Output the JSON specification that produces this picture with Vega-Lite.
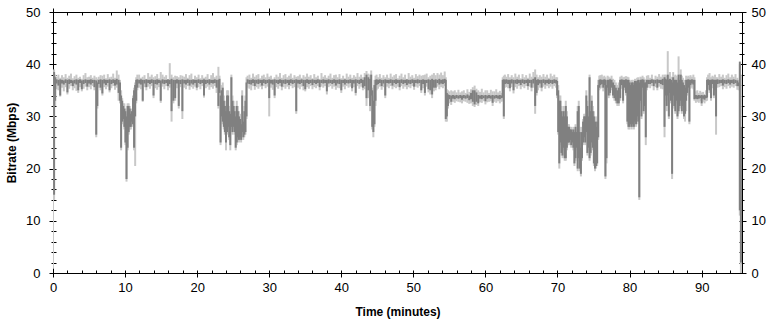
{
"$schema": "https://vega.github.io/schema/vega-lite/v6.json",
"width": 689,
"height": 261,
"autosize": "none",
"padding": {"left": 53, "top": 12, "right": 33, "bottom": 49},
"background": "white",
"config": {
 "view": {"stroke": "#000", "strokeWidth": 1},
 "axis": {"domain": false, "grid": false, "tickColor": "#000", "labelColor": "#000", "labelFont": "Liberation Sans", "labelFontSize": 13, "titleFont": "Liberation Sans", "titleFontSize": 12, "titleFontWeight": "bold", "titleColor": "#000", "labelOverlap": false, "labelFlush": false, "offset": -3, "tickWidth": 1}
},
"data": {"values": [
{"t":0,"d":37,"h":38,"m":0.8,"l":38.5},{"t":0.15,"d":15,"h":38.5,"m":14,"l":39},{"t":0.3,"d":33,"h":37.5,"m":32,"l":38},
{"t":0.5,"d":36.3,"h":37.1,"m":35.2,"l":37.6},{"t":0.75,"d":35.9,"h":37.0,"m":35.0,"l":38.0},{"t":1.0,"d":34.0,"h":37.1,"m":33.8,"l":37.4},{"t":1.25,"d":36.3,"h":37.0,"m":35.5,"l":37.9},{"t":1.5,"d":36.1,"h":36.9,"m":34.8,"l":37.5},{"t":1.75,"d":36.4,"h":37.1,"m":35.6,"l":38.1},{"t":2.0,"d":34.6,"h":37.0,"m":34.2,"l":37.4},{"t":2.25,"d":36.2,"h":37.1,"m":35.3,"l":37.8},{"t":2.5,"d":36.4,"h":37.0,"m":35.8,"l":38.2},{"t":2.75,"d":35.8,"h":36.9,"m":35.0,"l":37.3},{"t":3.0,"d":36.3,"h":37.0,"m":35.4,"l":37.7},{"t":3.25,"d":36.1,"h":37.1,"m":34.9,"l":38.0},{"t":3.5,"d":35.0,"h":37.0,"m":34.5,"l":37.4},{"t":3.75,"d":36.4,"h":37.1,"m":35.6,"l":37.6},{"t":4.0,"d":35.2,"h":36.9,"m":34.8,"l":37.2},{"t":4.25,"d":36.2,"h":37.0,"m":35.3,"l":37.9},{"t":4.5,"d":36.4,"h":37.1,"m":35.7,"l":38.3},{"t":4.75,"d":35.7,"h":37.0,"m":35.0,"l":37.5},{"t":5.0,"d":36.3,"h":37.0,"m":35.6,"l":37.6},{"t":5.25,"d":36.1,"h":37.1,"m":35.2,"l":37.9},{"t":5.5,"d":36.4,"h":37.0,"m":35.8,"l":37.4},{"t":5.75,"d":35.6,"h":37.0,"m":35.0,"l":37.8},{"t":6.0,"d":26.5,"h":36.9,"m":26.0,"l":37.5},{"t":6.15,"d":32.0,"h":36.5,"m":31.5,"l":37.2},{"t":6.35,"d":36.2,"h":37.0,"m":35.5,"l":37.6},{"t":6.6,"d":35.5,"h":37.1,"m":35.0,"l":37.9},{"t":6.85,"d":34.4,"h":37.0,"m":34.0,"l":37.8},{"t":7.1,"d":36.3,"h":37.1,"m":35.6,"l":38.0},{"t":7.35,"d":36.0,"h":37.0,"m":35.2,"l":37.3},{"t":7.6,"d":36.4,"h":37.0,"m":35.7,"l":38.1},{"t":7.85,"d":35.0,"h":37.1,"m":34.6,"l":37.5},{"t":8.1,"d":36.2,"h":37.0,"m":35.4,"l":37.6},{"t":8.35,"d":36.4,"h":37.1,"m":35.8,"l":38.2},{"t":8.6,"d":35.9,"h":37.0,"m":35.1,"l":37.4},{"t":8.85,"d":36.1,"h":37.2,"m":35.5,"l":38.8},
{"t":9.1,"d":34.5,"h":37.0,"m":33.0,"l":38.0},{"t":9.3,"d":33.0,"h":36.5,"m":32.5,"l":37.0},{"t":9.45,"d":24.0,"h":34.0,"m":23.5,"l":35.0},{"t":9.6,"d":29.0,"h":33.0,"m":28.5,"l":33.5},{"t":9.75,"d":29.5,"h":32.0,"m":29.0,"l":32.5},{"t":9.9,"d":28.0,"h":31.5,"m":27.5,"l":32.5},{"t":10.05,"d":25.0,"h":31.0,"m":24.5,"l":31.5},{"t":10.2,"d":18.0,"h":30.0,"m":17.5,"l":30.5},{"t":10.35,"d":24.0,"h":32.0,"m":23.5,"l":32.5},{"t":10.5,"d":27.0,"h":32.0,"m":26.5,"l":32.5},{"t":10.65,"d":28.0,"h":31.5,"m":27.5,"l":32.0},{"t":10.8,"d":28.0,"h":30.5,"m":27.5,"l":31.0},{"t":10.95,"d":29.0,"h":31.0,"m":28.5,"l":31.5},{"t":11.1,"d":28.5,"h":33.5,"m":28.0,"l":34.0},{"t":11.25,"d":24.0,"h":35.0,"m":23.5,"l":35.5},{"t":11.4,"d":30.0,"h":36.0,"m":20.5,"l":36.5},{"t":11.55,"d":33.0,"h":37.0,"m":32.5,"l":37.5},{"t":11.7,"d":35.5,"h":37.1,"m":35.0,"l":38.0},
{"t":11.95,"d":36.3,"h":37.0,"m":35.5,"l":38.0},{"t":12.2,"d":36.1,"h":37.1,"m":35.2,"l":37.4},{"t":12.45,"d":33.0,"h":37.0,"m":32.8,"l":37.6},{"t":12.7,"d":36.3,"h":37.0,"m":35.6,"l":37.9},{"t":12.95,"d":35.6,"h":37.1,"m":35.0,"l":37.2},{"t":13.2,"d":36.4,"h":37.0,"m":35.7,"l":38.3},{"t":13.45,"d":36.2,"h":37.0,"m":35.3,"l":37.6},{"t":13.7,"d":36.4,"h":37.1,"m":35.8,"l":38.0},{"t":13.95,"d":34.0,"h":37.0,"m":33.5,"l":37.5},{"t":14.2,"d":36.2,"h":37.0,"m":35.4,"l":37.7},{"t":14.45,"d":36.1,"h":37.1,"m":35.1,"l":38.1},{"t":14.7,"d":36.4,"h":37.0,"m":35.6,"l":37.3},{"t":14.95,"d":33.0,"h":36.9,"m":32.6,"l":38.5},{"t":15.2,"d":36.3,"h":37.1,"m":35.7,"l":38.0},{"t":15.45,"d":36.2,"h":37.0,"m":35.2,"l":37.6},{"t":15.7,"d":36.4,"h":37.0,"m":35.8,"l":37.9},{"t":15.95,"d":35.8,"h":37.1,"m":35.0,"l":37.1},{"t":16.2,"d":36.2,"h":37.0,"m":35.5,"l":40.2},{"t":16.45,"d":31.0,"h":37.2,"m":29.0,"l":38.0},{"t":16.7,"d":33.0,"h":37.0,"m":32.5,"l":37.5},{"t":16.95,"d":33.5,"h":37.0,"m":33.0,"l":37.8},{"t":17.2,"d":36.3,"h":37.1,"m":35.4,"l":37.7},{"t":17.45,"d":32.0,"h":37.0,"m":31.5,"l":37.5},{"t":17.7,"d":36.2,"h":37.0,"m":35.6,"l":37.9},{"t":17.95,"d":31.0,"h":37.1,"m":29.5,"l":37.8},{"t":18.2,"d":36.3,"h":37.0,"m":35.5,"l":37.6},{"t":18.45,"d":36.1,"h":37.0,"m":35.2,"l":38.1},{"t":18.7,"d":36.4,"h":37.1,"m":35.8,"l":37.4},{"t":18.95,"d":35.9,"h":37.0,"m":35.1,"l":37.9},{"t":19.2,"d":36.3,"h":37.0,"m":35.6,"l":38.2},{"t":19.45,"d":36.1,"h":37.1,"m":35.3,"l":37.0},{"t":19.7,"d":36.4,"h":37.0,"m":35.7,"l":37.8},{"t":19.95,"d":35.5,"h":37.0,"m":35.0,"l":37.5},{"t":20.2,"d":36.4,"h":37.1,"m":35.6,"l":38.0},{"t":20.45,"d":36.2,"h":37.0,"m":35.2,"l":37.3},{"t":20.7,"d":36.4,"h":37.0,"m":35.8,"l":37.9},{"t":20.95,"d":34.0,"h":37.1,"m":33.6,"l":37.4},{"t":21.2,"d":36.2,"h":37.0,"m":35.4,"l":37.6},{"t":21.45,"d":36.4,"h":37.0,"m":35.7,"l":38.1},{"t":21.7,"d":36.1,"h":37.1,"m":35.1,"l":37.2},{"t":21.95,"d":36.4,"h":37.0,"m":35.6,"l":37.9},{"t":22.2,"d":36.3,"h":37.0,"m":35.3,"l":38.3},{"t":22.45,"d":36.4,"h":37.1,"m":35.8,"l":37.5},{"t":22.7,"d":35.5,"h":37.0,"m":34.5,"l":37.8},
{"t":22.95,"d":32.0,"h":37.0,"m":31.5,"l":39.5},{"t":23.1,"d":34.5,"h":37.2,"m":34.0,"l":37.8},{"t":23.25,"d":25.0,"h":34.0,"m":24.5,"l":35.0},{"t":23.4,"d":30.0,"h":35.0,"m":29.5,"l":36.0},{"t":23.55,"d":29.0,"h":35.5,"m":28.5,"l":36.5},{"t":23.7,"d":28.0,"h":33.0,"m":27.5,"l":34.0},{"t":23.85,"d":27.0,"h":32.0,"m":26.5,"l":33.0},{"t":24.0,"d":25.0,"h":31.0,"m":23.5,"l":32.0},{"t":24.15,"d":27.0,"h":34.0,"m":26.5,"l":35.0},{"t":24.3,"d":28.0,"h":34.0,"m":27.5,"l":35.0},{"t":24.45,"d":26.0,"h":31.0,"m":25.5,"l":32.0},{"t":24.6,"d":24.5,"h":30.5,"m":23.5,"l":31.0},{"t":24.75,"d":28.0,"h":37.5,"m":27.5,"l":38.0},{"t":24.9,"d":27.0,"h":33.0,"m":26.5,"l":34.0},{"t":25.05,"d":28.0,"h":32.0,"m":27.5,"l":33.0},{"t":25.2,"d":27.0,"h":31.0,"m":26.5,"l":32.0},{"t":25.35,"d":24.0,"h":30.0,"m":23.5,"l":31.0},{"t":25.5,"d":25.0,"h":32.0,"m":24.5,"l":33.0},{"t":25.65,"d":26.0,"h":31.0,"m":25.5,"l":32.0},{"t":25.8,"d":25.5,"h":30.0,"m":25.0,"l":31.0},{"t":25.95,"d":26.0,"h":29.5,"m":25.5,"l":30.5},{"t":26.1,"d":25.5,"h":28.5,"m":25.0,"l":29.5},{"t":26.25,"d":27.0,"h":34.0,"m":26.5,"l":35.0},{"t":26.4,"d":26.0,"h":29.0,"m":25.5,"l":30.0},{"t":26.55,"d":26.5,"h":31.0,"m":26.0,"l":32.0},{"t":26.7,"d":27.0,"h":33.0,"m":26.5,"l":34.0},{"t":26.85,"d":30.0,"h":36.5,"m":29.5,"l":37.5},
{"t":27.0,"d":36.3,"h":37.1,"m":35.5,"l":37.8},{"t":27.25,"d":36.2,"h":37.0,"m":35.3,"l":38.0},{"t":27.5,"d":36.1,"h":37.0,"m":35.0,"l":37.4},{"t":27.75,"d":36.4,"h":37.1,"m":35.8,"l":38.2},{"t":28.0,"d":35.8,"h":37.0,"m":35.1,"l":37.6},{"t":28.25,"d":36.3,"h":37.0,"m":35.6,"l":37.9},{"t":28.5,"d":36.2,"h":37.1,"m":35.3,"l":38.1},{"t":28.75,"d":36.4,"h":37.0,"m":35.7,"l":37.3},{"t":29.0,"d":35.9,"h":37.0,"m":35.2,"l":37.8},{"t":29.25,"d":36.4,"h":37.1,"m":35.8,"l":38.0},{"t":29.5,"d":36.2,"h":37.0,"m":35.4,"l":37.5},{"t":29.75,"d":36.4,"h":37.0,"m":35.7,"l":38.2},{"t":30.0,"d":33.5,"h":37.1,"m":30.0,"l":37.6},{"t":30.25,"d":36.3,"h":37.0,"m":35.5,"l":37.8},{"t":30.5,"d":36.1,"h":37.0,"m":35.1,"l":37.2},{"t":30.75,"d":34.0,"h":37.1,"m":33.5,"l":37.5},{"t":31.0,"d":36.4,"h":37.0,"m":35.6,"l":38.0},{"t":31.25,"d":36.2,"h":37.0,"m":35.3,"l":37.6},{"t":31.5,"d":36.4,"h":37.1,"m":35.8,"l":38.3},{"t":31.75,"d":35.7,"h":37.0,"m":35.0,"l":37.4},{"t":32.0,"d":36.3,"h":37.0,"m":35.6,"l":37.9},{"t":32.25,"d":36.2,"h":37.1,"m":35.3,"l":38.1},{"t":32.5,"d":36.4,"h":37.0,"m":35.7,"l":37.5},{"t":32.75,"d":36.0,"h":37.0,"m":35.2,"l":37.8},{"t":33.0,"d":36.4,"h":37.1,"m":35.8,"l":38.2},{"t":33.25,"d":36.2,"h":37.0,"m":35.4,"l":37.4},{"t":33.5,"d":36.4,"h":37.0,"m":35.6,"l":37.9},{"t":33.75,"d":31.0,"h":37.1,"m":30.5,"l":37.6},
{"t":34.0,"d":36.3,"h":37.0,"m":35.5,"l":37.7},{"t":34.25,"d":36.2,"h":37.0,"m":35.2,"l":38.0},{"t":34.5,"d":36.4,"h":37.1,"m":35.7,"l":37.4},{"t":34.75,"d":35.8,"h":37.0,"m":35.0,"l":37.9},{"t":35.0,"d":35.2,"h":37.0,"m":34.8,"l":37.6},{"t":35.25,"d":36.4,"h":37.1,"m":35.6,"l":38.2},{"t":35.5,"d":36.2,"h":37.0,"m":35.3,"l":37.6},{"t":35.75,"d":36.4,"h":37.0,"m":35.8,"l":37.9},{"t":36.0,"d":36.0,"h":37.1,"m":35.2,"l":37.3},{"t":36.25,"d":36.4,"h":37.0,"m":35.6,"l":38.1},{"t":36.5,"d":36.2,"h":37.0,"m":35.4,"l":37.5},{"t":36.75,"d":36.4,"h":37.1,"m":35.8,"l":37.8},{"t":37.0,"d":35.6,"h":37.0,"m":35.0,"l":37.2},{"t":37.25,"d":36.4,"h":37.0,"m":35.7,"l":38.3},{"t":37.5,"d":36.3,"h":37.1,"m":35.5,"l":37.6},{"t":37.75,"d":36.4,"h":37.0,"m":35.8,"l":37.9},{"t":38.0,"d":34.8,"h":37.0,"m":34.2,"l":37.4},{"t":38.25,"d":36.3,"h":37.1,"m":35.6,"l":37.8},{"t":38.5,"d":36.4,"h":37.0,"m":35.8,"l":38.2},{"t":38.75,"d":36.2,"h":37.0,"m":35.3,"l":37.4},{"t":39.0,"d":36.4,"h":37.1,"m":35.7,"l":37.9},{"t":39.25,"d":35.9,"h":37.0,"m":35.1,"l":38.0},{"t":39.5,"d":36.3,"h":37.0,"m":35.5,"l":37.5},{"t":39.75,"d":36.2,"h":37.1,"m":35.4,"l":38.1},{"t":40.0,"d":35.0,"h":37.0,"m":34.5,"l":37.3},{"t":40.25,"d":36.4,"h":37.0,"m":35.7,"l":37.8},{"t":40.5,"d":36.1,"h":37.1,"m":35.2,"l":37.3},{"t":40.75,"d":36.4,"h":37.0,"m":35.8,"l":38.2},{"t":41.0,"d":36.3,"h":37.0,"m":35.5,"l":37.6},{"t":41.25,"d":36.4,"h":37.1,"m":35.7,"l":38.0},{"t":41.5,"d":35.4,"h":37.0,"m":34.8,"l":37.4},{"t":41.75,"d":36.3,"h":37.0,"m":35.6,"l":37.9},{"t":42.0,"d":34.5,"h":37.1,"m":34.0,"l":37.6},{"t":42.25,"d":36.4,"h":37.0,"m":35.8,"l":38.3},{"t":42.5,"d":36.2,"h":37.0,"m":35.3,"l":37.6},{"t":42.75,"d":36.4,"h":37.2,"m":35.7,"l":38.0},{"t":43.0,"d":35.5,"h":37.0,"m":35.0,"l":37.5},{"t":43.25,"d":35.8,"h":37.5,"m":35.2,"l":38.3},{"t":43.5,"d":33.5,"h":38.0,"m":32.0,"l":38.7},{"t":43.75,"d":35.0,"h":37.5,"m":33.5,"l":38.2},
{"t":44.0,"d":32.0,"h":37.2,"m":31.0,"l":38.0},{"t":44.15,"d":34.0,"h":38.0,"m":33.0,"l":38.8},{"t":44.3,"d":28.0,"h":35.0,"m":27.5,"l":35.5},{"t":44.45,"d":27.0,"h":33.0,"m":26.0,"l":34.0},{"t":44.6,"d":28.5,"h":36.0,"m":28.0,"l":37.0},{"t":44.75,"d":33.0,"h":37.0,"m":32.0,"l":37.8},{"t":44.9,"d":36.0,"h":37.1,"m":35.0,"l":38.0},
{"t":45.1,"d":36.2,"h":37.0,"m":35.3,"l":37.5},{"t":45.35,"d":36.4,"h":37.1,"m":35.7,"l":38.1},{"t":45.6,"d":35.8,"h":37.0,"m":35.1,"l":37.4},{"t":45.85,"d":36.3,"h":37.0,"m":35.6,"l":37.9},{"t":46.1,"d":34.0,"h":37.1,"m":33.5,"l":37.5},{"t":46.35,"d":36.4,"h":37.0,"m":35.7,"l":38.0},{"t":46.6,"d":36.3,"h":37.0,"m":35.4,"l":37.4},{"t":46.85,"d":36.4,"h":37.1,"m":35.8,"l":38.2},{"t":47.1,"d":35.9,"h":37.0,"m":35.2,"l":37.6},{"t":47.35,"d":36.4,"h":37.0,"m":35.6,"l":37.9},{"t":47.6,"d":36.2,"h":37.1,"m":35.4,"l":38.1},{"t":47.85,"d":36.4,"h":37.0,"m":35.7,"l":37.3},{"t":48.1,"d":35.6,"h":37.0,"m":35.0,"l":37.8},{"t":48.35,"d":36.4,"h":37.1,"m":35.8,"l":38.2},{"t":48.6,"d":36.2,"h":37.0,"m":35.3,"l":37.5},{"t":48.85,"d":36.4,"h":37.0,"m":35.7,"l":38.0},{"t":49.1,"d":36.0,"h":37.1,"m":35.2,"l":37.2},{"t":49.35,"d":36.3,"h":37.0,"m":35.6,"l":38.3},{"t":49.6,"d":36.2,"h":37.0,"m":35.4,"l":37.6},{"t":49.85,"d":36.4,"h":37.1,"m":35.8,"l":37.9},{"t":50.1,"d":35.7,"h":37.0,"m":35.1,"l":37.4},{"t":50.35,"d":36.4,"h":37.0,"m":35.7,"l":38.1},{"t":50.6,"d":36.3,"h":37.1,"m":35.5,"l":37.7},{"t":50.85,"d":36.4,"h":37.0,"m":35.8,"l":38.0},{"t":51.1,"d":35.0,"h":37.0,"m":34.5,"l":37.8},{"t":51.35,"d":36.2,"h":37.1,"m":35.4,"l":37.9},{"t":51.6,"d":34.5,"h":37.0,"m":34.0,"l":38.0},{"t":51.85,"d":36.4,"h":37.0,"m":35.7,"l":38.2},{"t":52.1,"d":35.2,"h":37.1,"m":34.6,"l":37.5},{"t":52.35,"d":35.0,"h":37.0,"m":34.2,"l":37.8},{"t":52.6,"d":34.2,"h":37.2,"m":33.5,"l":38.0},{"t":52.85,"d":35.5,"h":37.0,"m":34.8,"l":38.3},{"t":53.1,"d":35.5,"h":37.1,"m":35.0,"l":37.9},{"t":53.35,"d":36.4,"h":37.0,"m":35.7,"l":38.3},{"t":53.6,"d":36.1,"h":37.2,"m":35.2,"l":38.0},{"t":53.85,"d":36.3,"h":37.0,"m":35.6,"l":38.4},{"t":54.1,"d":36.2,"h":37.1,"m":35.4,"l":37.9},{"t":54.35,"d":36.4,"h":37.2,"m":35.8,"l":38.6},
{"t":54.5,"d":29.5,"h":37.0,"m":29.0,"l":37.5},{"t":54.65,"d":30.0,"h":34.5,"m":29.0,"l":35.2},{"t":54.8,"d":32.0,"h":34.2,"m":31.5,"l":35.0},
{"t":55.0,"d":33.3,"h":34.1,"m":32.5,"l":34.8},{"t":55.25,"d":32.8,"h":34.0,"m":32.2,"l":35.0},{"t":55.5,"d":33.4,"h":34.1,"m":32.8,"l":34.8},{"t":55.75,"d":33.3,"h":34.0,"m":32.6,"l":35.0},{"t":56.0,"d":33.5,"h":34.1,"m":32.9,"l":34.6},{"t":56.25,"d":33.4,"h":34.0,"m":32.8,"l":35.1},{"t":56.5,"d":33.5,"h":34.1,"m":32.7,"l":34.6},{"t":56.75,"d":33.2,"h":34.0,"m":32.5,"l":34.8},{"t":57.0,"d":33.5,"h":34.1,"m":32.9,"l":35.0},{"t":57.25,"d":33.4,"h":34.0,"m":32.8,"l":34.5},{"t":57.5,"d":33.5,"h":34.2,"m":32.6,"l":35.2},{"t":57.75,"d":33.1,"h":34.0,"m":32.4,"l":34.7},{"t":58.0,"d":33.3,"h":34.5,"m":32.5,"l":35.2},{"t":58.25,"d":32.8,"h":35.0,"m":32.0,"l":35.6},{"t":58.5,"d":32.3,"h":35.0,"m":31.8,"l":35.9},{"t":58.75,"d":32.8,"h":34.6,"m":32.2,"l":35.3},{"t":59.0,"d":32.5,"h":34.1,"m":32.0,"l":35.0},{"t":59.25,"d":33.4,"h":34.0,"m":32.7,"l":34.7},{"t":59.5,"d":33.3,"h":34.1,"m":32.6,"l":35.3},{"t":59.75,"d":33.5,"h":34.0,"m":32.9,"l":34.6},{"t":60.0,"d":32.9,"h":34.1,"m":32.3,"l":35.0},{"t":60.25,"d":33.4,"h":34.0,"m":32.7,"l":35.0},{"t":60.5,"d":33.5,"h":34.1,"m":32.8,"l":34.5},{"t":60.75,"d":33.4,"h":34.0,"m":32.9,"l":35.1},{"t":61.0,"d":32.6,"h":34.1,"m":32.0,"l":34.8},{"t":61.25,"d":33.4,"h":34.0,"m":32.8,"l":34.8},{"t":61.5,"d":33.5,"h":34.1,"m":32.6,"l":35.2},{"t":61.75,"d":33.4,"h":34.0,"m":32.9,"l":34.6},{"t":62.0,"d":33.3,"h":34.1,"m":32.5,"l":34.9},{"t":62.25,"d":33.5,"h":34.0,"m":32.8,"l":34.5},
{"t":62.4,"d":33.6,"h":37.0,"m":33.0,"l":37.5},{"t":62.55,"d":30.0,"h":37.1,"m":29.5,"l":37.8},{"t":62.7,"d":36.2,"h":37.0,"m":35.5,"l":38.0},{"t":62.9,"d":36.3,"h":37.1,"m":35.6,"l":37.6},{"t":63.15,"d":36.2,"h":37.0,"m":35.4,"l":38.1},{"t":63.4,"d":35.4,"h":37.0,"m":34.8,"l":37.5},{"t":63.65,"d":36.3,"h":37.1,"m":35.6,"l":37.9},{"t":63.9,"d":35.0,"h":37.0,"m":34.4,"l":37.5},{"t":64.15,"d":36.3,"h":37.0,"m":35.6,"l":38.2},{"t":64.4,"d":36.2,"h":37.1,"m":35.3,"l":37.6},{"t":64.65,"d":36.4,"h":37.0,"m":35.8,"l":38.0},{"t":64.9,"d":36.0,"h":37.0,"m":35.2,"l":37.3},{"t":65.15,"d":36.4,"h":37.1,"m":35.7,"l":38.1},{"t":65.4,"d":36.2,"h":37.0,"m":35.4,"l":37.5},{"t":65.65,"d":36.4,"h":37.0,"m":35.8,"l":37.9},{"t":65.9,"d":35.8,"h":37.1,"m":35.1,"l":37.4},{"t":66.15,"d":36.4,"h":37.0,"m":35.7,"l":38.2},{"t":66.4,"d":35.5,"h":37.0,"m":34.8,"l":37.6},{"t":66.65,"d":36.3,"h":37.2,"m":35.5,"l":38.5},{"t":66.9,"d":32.0,"h":37.5,"m":30.5,"l":39.0},{"t":67.1,"d":34.5,"h":37.0,"m":34.0,"l":38.0},{"t":67.3,"d":36.0,"h":37.1,"m":35.0,"l":37.5},{"t":67.55,"d":36.3,"h":37.0,"m":35.5,"l":37.9},{"t":67.8,"d":35.5,"h":37.0,"m":34.8,"l":37.6},{"t":68.05,"d":36.4,"h":37.1,"m":35.7,"l":38.1},{"t":68.3,"d":36.1,"h":37.0,"m":35.3,"l":37.6},{"t":68.55,"d":36.4,"h":37.0,"m":35.8,"l":38.0},{"t":68.8,"d":36.2,"h":37.1,"m":35.4,"l":37.4},{"t":69.05,"d":36.4,"h":37.0,"m":35.7,"l":38.2},{"t":69.3,"d":36.2,"h":37.0,"m":35.3,"l":37.7},{"t":69.55,"d":36.4,"h":37.1,"m":35.8,"l":38.0},{"t":69.8,"d":36.3,"h":37.0,"m":35.5,"l":37.5},
{"t":69.95,"d":34.0,"h":36.8,"m":33.5,"l":37.5},{"t":70.1,"d":27.0,"h":35.0,"m":26.5,"l":36.0},{"t":70.25,"d":21.0,"h":33.0,"m":20.0,"l":34.0},{"t":70.4,"d":25.0,"h":33.0,"m":24.5,"l":34.0},{"t":70.55,"d":23.0,"h":31.0,"m":22.5,"l":32.0},{"t":70.7,"d":22.5,"h":30.0,"m":22.0,"l":31.0},{"t":70.85,"d":24.0,"h":31.0,"m":23.5,"l":32.0},{"t":71.0,"d":22.0,"h":30.0,"m":21.5,"l":31.0},{"t":71.15,"d":22.0,"h":32.0,"m":21.5,"l":33.0},{"t":71.3,"d":24.0,"h":30.0,"m":23.5,"l":31.0},{"t":71.45,"d":25.0,"h":28.0,"m":24.5,"l":28.5},{"t":71.6,"d":25.0,"h":28.0,"m":24.5,"l":28.5},{"t":71.75,"d":25.5,"h":27.5,"m":25.0,"l":28.0},{"t":71.9,"d":24.5,"h":27.5,"m":24.0,"l":28.0},{"t":72.05,"d":25.0,"h":27.0,"m":24.5,"l":27.5},{"t":72.2,"d":24.0,"h":27.5,"m":23.5,"l":28.0},{"t":72.35,"d":21.0,"h":27.0,"m":20.5,"l":27.5},{"t":72.5,"d":22.0,"h":28.0,"m":21.5,"l":28.5},{"t":72.65,"d":24.0,"h":27.0,"m":23.5,"l":27.5},{"t":72.8,"d":20.0,"h":31.0,"m":19.5,"l":32.0},{"t":72.95,"d":22.0,"h":32.0,"m":21.5,"l":33.0},{"t":73.1,"d":20.0,"h":27.0,"m":19.5,"l":28.0},{"t":73.25,"d":19.0,"h":24.0,"m":18.5,"l":25.0},{"t":73.4,"d":22.0,"h":27.0,"m":21.5,"l":28.0},{"t":73.55,"d":25.0,"h":29.0,"m":24.5,"l":29.5},{"t":73.7,"d":26.0,"h":30.0,"m":25.5,"l":30.5},{"t":73.85,"d":25.0,"h":30.0,"m":24.5,"l":30.5},{"t":74.0,"d":27.0,"h":34.0,"m":26.5,"l":35.0},{"t":74.15,"d":23.0,"h":32.0,"m":22.5,"l":33.0},{"t":74.3,"d":24.0,"h":30.0,"m":23.5,"l":31.0},{"t":74.45,"d":22.0,"h":37.5,"m":21.5,"l":38.0},{"t":74.6,"d":23.0,"h":31.0,"m":22.5,"l":32.0},{"t":74.75,"d":25.0,"h":33.0,"m":24.5,"l":34.0},{"t":74.9,"d":24.0,"h":31.0,"m":23.5,"l":32.0},{"t":75.05,"d":21.0,"h":30.0,"m":20.5,"l":31.0},{"t":75.2,"d":20.0,"h":29.0,"m":19.5,"l":30.0},{"t":75.35,"d":20.5,"h":28.0,"m":20.0,"l":29.0},{"t":75.5,"d":21.0,"h":29.0,"m":20.5,"l":30.0},{"t":75.65,"d":26.0,"h":36.0,"m":25.5,"l":37.0},{"t":75.8,"d":35.5,"h":37.0,"m":35.0,"l":37.8},{"t":75.95,"d":36.0,"h":37.1,"m":35.3,"l":37.9},{"t":76.15,"d":36.2,"h":37.0,"m":35.5,"l":38.0},{"t":76.35,"d":35.5,"h":37.0,"m":34.8,"l":37.6},{"t":76.5,"d":36.0,"h":37.1,"m":35.2,"l":37.8},{"t":76.65,"d":18.5,"h":37.0,"m":18.0,"l":37.5},{"t":76.8,"d":22.0,"h":36.0,"m":21.0,"l":36.8},{"t":76.95,"d":35.5,"h":37.0,"m":35.0,"l":37.8},{"t":77.1,"d":34.0,"h":37.0,"m":33.5,"l":37.6},{"t":77.3,"d":34.5,"h":37.1,"m":34.0,"l":37.4},{"t":77.5,"d":35.5,"h":37.0,"m":35.0,"l":37.8},{"t":77.7,"d":34.0,"h":36.5,"m":33.5,"l":37.2},{"t":77.9,"d":33.5,"h":36.0,"m":33.0,"l":37.0},{"t":78.1,"d":33.0,"h":35.5,"m":32.5,"l":36.5},{"t":78.3,"d":32.5,"h":35.0,"m":32.0,"l":36.0},{"t":78.5,"d":32.5,"h":35.5,"m":32.0,"l":36.5},{"t":78.7,"d":33.5,"h":37.0,"m":33.0,"l":37.6},{"t":78.9,"d":36.0,"h":37.1,"m":35.3,"l":37.8},{"t":79.1,"d":33.0,"h":37.0,"m":32.5,"l":37.5},{"t":79.3,"d":35.5,"h":37.0,"m":35.0,"l":37.6},{"t":79.5,"d":34.5,"h":37.1,"m":34.0,"l":37.7},{"t":79.7,"d":29.0,"h":37.0,"m":28.5,"l":37.6},{"t":79.85,"d":28.0,"h":37.0,"m":27.5,"l":37.5},{"t":80.0,"d":28.0,"h":36.5,"m":27.5,"l":37.0},{"t":80.15,"d":28.5,"h":36.0,"m":28.0,"l":36.8},{"t":80.3,"d":28.0,"h":36.5,"m":27.5,"l":37.0},{"t":80.45,"d":28.5,"h":36.5,"m":28.0,"l":37.0},{"t":80.6,"d":28.0,"h":36.0,"m":27.5,"l":36.6},{"t":80.75,"d":29.0,"h":36.8,"m":28.5,"l":37.2},{"t":80.9,"d":28.5,"h":36.5,"m":28.0,"l":37.0},{"t":81.05,"d":30.0,"h":36.8,"m":29.5,"l":37.4},{"t":81.2,"d":29.0,"h":37.0,"m":28.5,"l":37.5},{"t":81.35,"d":14.5,"h":36.5,"m":14.0,"l":37.0},{"t":81.5,"d":33.0,"h":37.0,"m":32.5,"l":37.6},{"t":81.65,"d":30.0,"h":37.0,"m":29.5,"l":37.5},{"t":81.8,"d":35.5,"h":37.1,"m":35.0,"l":37.8},{"t":81.95,"d":31.0,"h":37.0,"m":30.5,"l":37.5},{"t":82.1,"d":32.0,"h":36.5,"m":31.5,"l":37.2},{"t":82.25,"d":26.0,"h":36.5,"m":24.5,"l":37.0},{"t":82.4,"d":35.5,"h":37.0,"m":35.0,"l":37.8},{"t":82.6,"d":36.2,"h":37.0,"m":35.5,"l":37.9},{"t":82.85,"d":36.2,"h":37.0,"m":35.4,"l":37.4},{"t":83.1,"d":36.4,"h":37.1,"m":35.8,"l":38.0},{"t":83.35,"d":35.8,"h":37.0,"m":35.0,"l":37.2},{"t":83.6,"d":36.3,"h":37.0,"m":35.6,"l":37.8},{"t":83.85,"d":35.5,"h":37.1,"m":35.0,"l":37.6},{"t":84.1,"d":36.4,"h":37.0,"m":35.7,"l":38.1},{"t":84.35,"d":36.2,"h":37.0,"m":35.3,"l":37.6},{"t":84.6,"d":36.0,"h":37.2,"m":35.2,"l":38.0},{"t":84.85,"d":28.0,"h":37.5,"m":26.0,"l":38.0},{"t":85.0,"d":34.0,"h":37.2,"m":33.0,"l":38.0},{"t":85.15,"d":32.0,"h":37.0,"m":31.0,"l":37.8},{"t":85.3,"d":34.0,"h":38.0,"m":33.0,"l":42.5},{"t":85.45,"d":30.0,"h":37.0,"m":29.5,"l":37.8},{"t":85.6,"d":34.5,"h":37.2,"m":34.0,"l":38.5},{"t":85.75,"d":33.0,"h":37.0,"m":32.5,"l":37.6},{"t":85.9,"d":19.0,"h":36.5,"m":18.0,"l":37.2},{"t":86.05,"d":34.0,"h":37.5,"m":33.5,"l":38.5},{"t":86.2,"d":32.0,"h":37.0,"m":31.5,"l":37.8},{"t":86.35,"d":31.0,"h":37.0,"m":30.5,"l":38.0},{"t":86.5,"d":33.0,"h":37.0,"m":32.5,"l":37.8},{"t":86.65,"d":30.0,"h":36.5,"m":29.5,"l":37.4},{"t":86.8,"d":31.0,"h":38.0,"m":30.5,"l":41.5},{"t":86.95,"d":32.0,"h":37.0,"m":31.5,"l":38.0},{"t":87.1,"d":33.0,"h":38.0,"m":32.5,"l":39.0},{"t":87.25,"d":31.0,"h":37.0,"m":30.5,"l":37.8},{"t":87.4,"d":32.0,"h":36.5,"m":31.0,"l":37.4},{"t":87.55,"d":30.0,"h":36.0,"m":29.5,"l":37.0},{"t":87.7,"d":30.5,"h":35.5,"m":29.0,"l":36.5},{"t":87.85,"d":33.0,"h":37.0,"m":31.0,"l":37.8},{"t":88.0,"d":34.5,"h":37.0,"m":34.0,"l":37.6},{"t":88.15,"d":35.5,"h":37.1,"m":35.0,"l":37.8},{"t":88.3,"d":29.0,"h":37.0,"m":28.5,"l":37.6},{"t":88.45,"d":36.0,"h":37.0,"m":35.3,"l":37.9},{"t":88.65,"d":36.3,"h":37.1,"m":35.5,"l":37.6},{"t":88.85,"d":36.1,"h":37.0,"m":35.2,"l":38.0},
{"t":89.0,"d":33.3,"h":37.0,"m":33.0,"l":37.5},{"t":89.2,"d":33.4,"h":34.1,"m":32.6,"l":34.8},{"t":89.4,"d":33.3,"h":34.0,"m":32.8,"l":35.0},{"t":89.6,"d":33.4,"h":34.1,"m":32.6,"l":34.5},{"t":89.8,"d":33.5,"h":34.0,"m":32.9,"l":34.9},{"t":90.0,"d":32.5,"h":34.1,"m":32.0,"l":34.6},{"t":90.2,"d":33.4,"h":34.0,"m":32.8,"l":34.7},{"t":90.4,"d":33.2,"h":34.1,"m":32.5,"l":34.3},{"t":90.6,"d":33.5,"h":34.0,"m":32.9,"l":35.0},{"t":90.75,"d":33.6,"h":37.0,"m":33.0,"l":37.5},{"t":90.9,"d":36.0,"h":37.1,"m":35.2,"l":38.0},{"t":91.1,"d":35.0,"h":37.0,"m":34.5,"l":38.3},{"t":91.3,"d":33.5,"h":37.0,"m":33.0,"l":37.5},{"t":91.5,"d":36.2,"h":37.1,"m":35.4,"l":37.8},{"t":91.7,"d":34.0,"h":37.0,"m":33.5,"l":37.6},{"t":91.85,"d":35.0,"h":37.0,"m":34.5,"l":38.0},{"t":92.0,"d":30.0,"h":37.0,"m":26.5,"l":37.5},{"t":92.2,"d":36.2,"h":37.1,"m":35.5,"l":37.5},{"t":92.45,"d":36.3,"h":37.0,"m":35.6,"l":38.1},{"t":92.7,"d":36.4,"h":37.0,"m":35.8,"l":37.6},{"t":92.95,"d":35.9,"h":37.1,"m":35.2,"l":38.0},{"t":93.2,"d":36.3,"h":37.0,"m":35.6,"l":37.4},{"t":93.45,"d":36.2,"h":37.0,"m":35.3,"l":37.9},{"t":93.7,"d":36.4,"h":37.1,"m":35.8,"l":38.2},{"t":93.95,"d":36.1,"h":37.0,"m":35.4,"l":37.5},{"t":94.2,"d":36.4,"h":37.0,"m":35.7,"l":38.0},{"t":94.45,"d":36.2,"h":37.1,"m":35.5,"l":37.6},{"t":94.7,"d":36.4,"h":37.0,"m":35.8,"l":38.1},{"t":94.95,"d":35.8,"h":36.9,"m":35.1,"l":37.4},{"t":95.15,"d":35.8,"h":36.5,"m":35.0,"l":37.0},{"t":95.3,"d":12.0,"h":40.5,"m":11.0,"l":40.0},{"t":95.45,"d":2.0,"h":28.0,"m":0.0,"l":38.0}
]},
"layer": [
 {
  "mark": {"type": "rule", "color": "#c8c8c8", "strokeWidth": 2, "clip": true},
  "encoding": {
   "x": {"field": "t", "type": "quantitative", "scale": {"domain": [0, 95.6], "nice": false, "zero": false},
    "axis": {"orient": "bottom", "values": [0,2,4,6,8,10,12,14,16,18,20,22,24,26,28,30,32,34,36,38,40,42,44,46,48,50,52,54,56,58,60,62,64,66,68,70,72,74,76,78,80,82,84,86,88,90,92,94],
     "labelExpr": "datum.value % 10 === 0 ? datum.label : ''",
     "tickSize": {"condition": {"test": "datum.value % 10 === 0", "value": 7}, "value": 3},
     "labelPadding": 4, "title": "Time (minutes)", "titleX": 344.5, "titleY": 41, "titleBaseline": "middle", "titleAlign": "center"}},
   "y": {"field": "m", "type": "quantitative", "scale": {"domain": [0, 50], "nice": false, "zero": true},
    "axis": {"orient": "left", "values": [0,2,4,6,8,10,12,14,16,18,20,22,24,26,28,30,32,34,36,38,40,42,44,46,48,50],
     "labelExpr": "datum.value % 10 === 0 ? datum.label : ''",
     "tickSize": {"condition": {"test": "datum.value % 10 === 0", "value": 7}, "value": 5},
     "labelPadding": 9, "title": "Bitrate (Mbps)", "titleX": -45, "titleY": 130.5, "titleAngle": -90, "titleBaseline": "middle", "titleAlign": "center"}},
   "y2": {"field": "l"}
  }
 },
 {
  "mark": {"type": "rule", "color": "#808080", "strokeWidth": 2, "clip": true},
  "encoding": {
   "x": {"field": "t", "type": "quantitative",
    "axis": {"orient": "top", "values": [0,2,4,6,8,10,12,14,16,18,20,22,24,26,28,30,32,34,36,38,40,42,44,46,48,50,52,54,56,58,60,62,64,66,68,70,72,74,76,78,80,82,84,86,88,90,92,94],
     "labels": false, "title": null,
     "tickSize": {"condition": {"test": "datum.value % 10 === 0", "value": 7}, "value": 3}}},
   "y": {"field": "d", "type": "quantitative",
    "axis": {"orient": "right", "values": [0,2,4,6,8,10,12,14,16,18,20,22,24,26,28,30,32,34,36,38,40,42,44,46,48,50],
     "labelExpr": "datum.value % 10 === 0 ? datum.label : ''",
     "tickSize": {"condition": {"test": "datum.value % 10 === 0", "value": 7}, "value": 5},
     "labelPadding": 5, "title": null}},
   "y2": {"field": "h"}
  }
 }
],
"resolve": {"axis": {"x": "independent", "y": "independent"}}
}
